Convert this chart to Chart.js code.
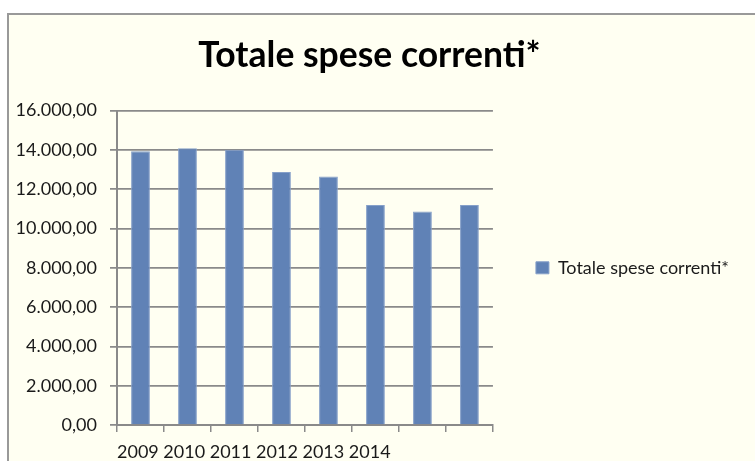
<!DOCTYPE html>
<html>
<head>
<meta charset="utf-8">
<script src="https://cdn.jsdelivr.net/npm/chart.js@4"></script>
<style>
    html, body { margin: 0; padding: 0; background: #ffffff; overflow: hidden; }
    .frame {
        position: absolute; left: 7px; top: 13px; width: 800px; height: 500px;
        background: #fffff2; border: 2px solid #999999;
    }
    /* a bit wider than the window so the title centre lands where the original has it */
    .wrap { position: absolute; left: 0; top: 0; width: 773px; height: 461px; }
</style>
</head>
<body>
<div class="frame"></div>
<div class="wrap"><canvas id="barChart"></canvas></div>
<script>
    const years = ['2009', '2010', '2011', '2012', '2013', '2014'];
    const categories = ['2009', '2010', '2011', '2012', '2013', '2014', '2015', '2016'];
    const seriesName = 'Totale spese correnti*';
    const values = [13930, 14080, 14010, 12880, 12640, 11190, 10870, 11190];
    const yTicks = [0, 2000, 4000, 6000, 8000, 10000, 12000, 14000, 16000];

    // 16000 -> "16.000,00"
    const formatIt = (v) => {
        const int = Math.floor(v).toString().replace(/\B(?=(\d{3})+(?!\d))/g, '.');
        return int + ',00';
    };

    const textColor = '#1a1a1a';
    const gridColor = '#8a8a8a';

    const ctx = document.getElementById('barChart').getContext('2d');
    new Chart(ctx, {
        type: 'bar',
        data: {
            labels: categories,
            datasets: [{
                label: seriesName,
                data: values,
                backgroundColor: '#6082b6',
                borderColor: '#86a0c9',
                borderWidth: 1,
                barPercentage: 0.4,
                categoryPercentage: 1.0
            }]
        },
        options: {
            responsive: true,
            maintainAspectRatio: false,
            animation: false,
            layout: { padding: { left: 0, right: 34, top: 0, bottom: 0 } },
            scales: {
                x: {
                    grid: {
                        drawOnChartArea: false,
                        drawTicks: true,
                        tickLength: 7,
                        color: gridColor,
                        lineWidth: 1.5
                    },
                    border: { color: gridColor, width: 2 },
                    ticks: { display: false },
                    title: {
                        display: true,
                        text: years.join(' '),
                        align: 'start',
                        color: textColor,
                        font: { family: 'Lato', size: 18, lineHeight: 1 },
                        padding: { top: 0, bottom: 0 }
                    },
                    afterFit: (scale) => { scale.height = 36; }
                },
                y: {
                    min: 0,
                    max: 16000,
                    afterBuildTicks: (scale) => { scale.ticks = yTicks.map(v => ({ value: v })); },
                    grid: { color: gridColor, lineWidth: 1.75, tickLength: 7 },
                    border: { color: gridColor, width: 2 },
                    ticks: {
                        color: textColor,
                        padding: 13,
                        font: { family: 'Lato', size: 18 },
                        callback: (v) => formatIt(v)
                    },
                    afterFit: (scale) => { scale.width = 117; }
                }
            },
            plugins: {
                legend: {
                    position: 'right',
                    fullSize: false,
                    maxWidth: 262,
                    labels: {
                        boxWidth: 13,
                        boxHeight: 12,
                        padding: 43,
                        color: textColor,
                        font: { family: 'Lato', size: 18 }
                    }
                },
                title: {
                    display: true,
                    text: seriesName,
                    color: '#000000',
                    font: { family: 'Lato', size: 35.5, weight: 'bold', lineHeight: 1.2 },
                    padding: { top: 34, bottom: 34 }
                },
                tooltip: { enabled: false }
            }
        }
    });
</script>
</body>
</html>
